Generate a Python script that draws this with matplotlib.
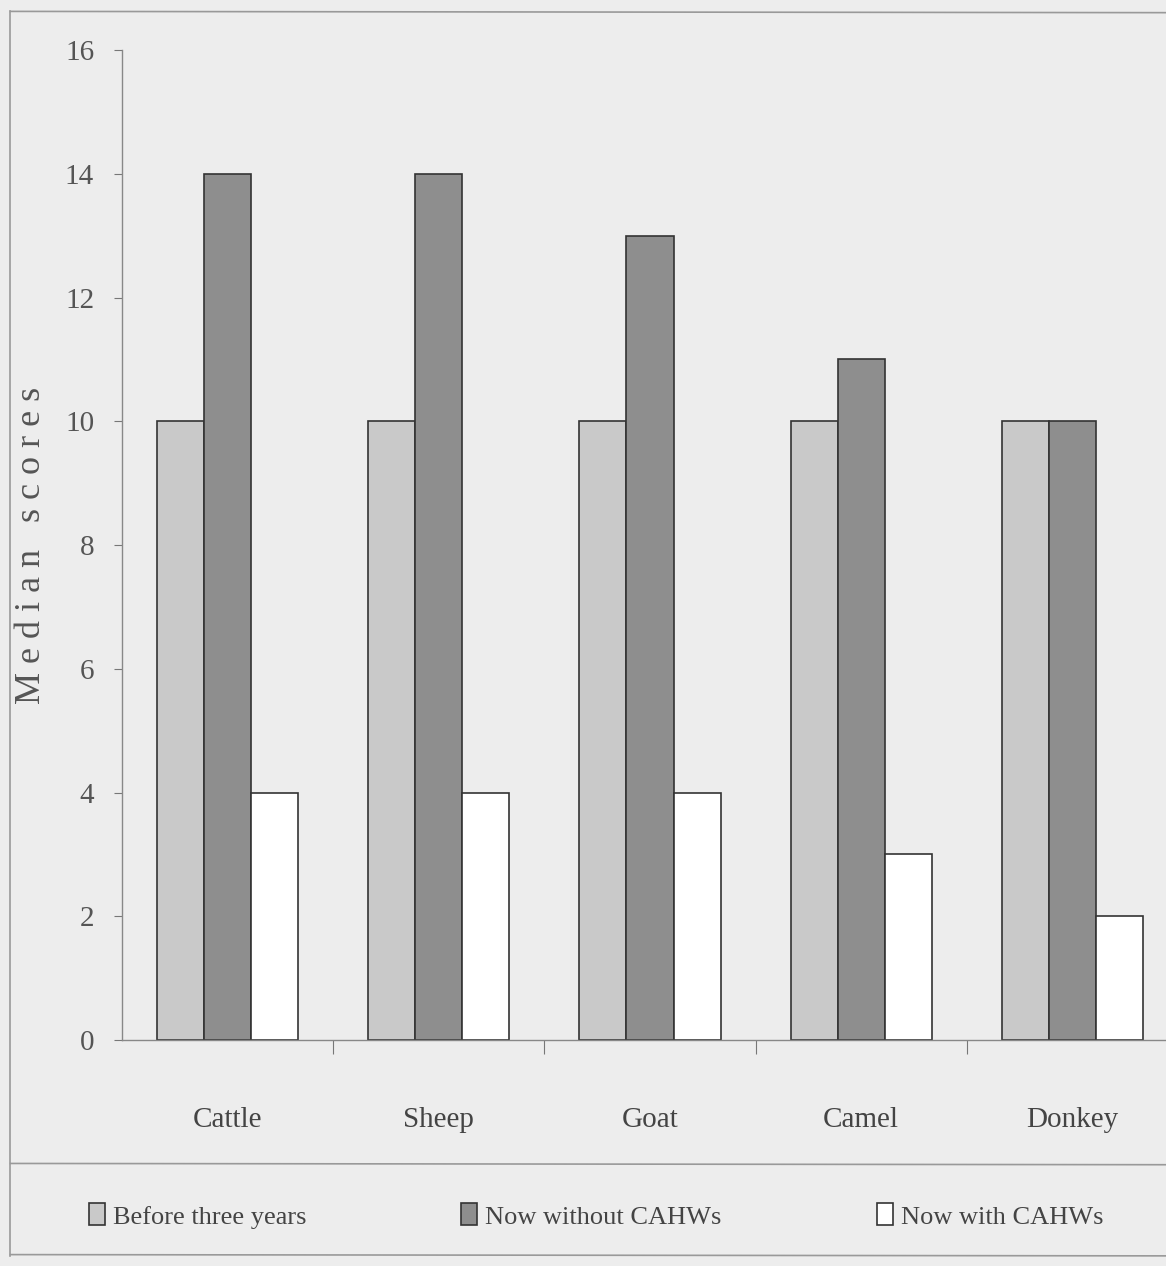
import matplotlib
matplotlib.use("Agg")
import matplotlib.pyplot as plt
from matplotlib.lines import Line2D
from matplotlib.patches import Patch
import numpy as np

plt.rcParams["font.family"] = ["Liberation Serif", "DejaVu Serif"]

# data
animals = ["Cattle", "Sheep", "Goat", "Camel", "Donkey"]
before_three_years = [10, 10, 10, 10, 10]
now_without_cahws = [14, 14, 13, 11, 10]
now_with_cahws = [4, 4, 4, 3, 2]
series_names = ["Before three years", "Now without CAHWs", "Now with CAHWs"]
y_ticks = [0, 2, 4, 6, 8, 10, 12, 14, 16]

BG = "#ededed"
colors = ["#c9c9c9", "#8e8e8e", "#ffffff"]

fig = plt.figure(figsize=(11.66, 12.66), dpi=100, facecolor=BG)
ax = fig.add_axes([0.1046, 0.1785, 0.9057, 0.782])
ax.set_facecolor(BG)

x = np.arange(len(animals))
w = 0.223
series = [before_three_years, now_without_cahws, now_with_cahws]
for i, (vals, c, name) in enumerate(zip(series, colors, series_names)):
    ax.bar(x + (i - 1) * w, vals, width=w, color=c, edgecolor="#333333",
           linewidth=1.2, label=name)

ax.set_xlim(-0.5, 4.5)
ax.set_ylim(0, 16)
ax.set_yticks(y_ticks)
ax.set_yticklabels([str(t) for t in y_ticks], fontsize=21, color="#555555")
ax.set_xticks(x[:-1] + 0.5)
ax.set_xticklabels([])
ax.set_xticks(x, minor=True)
ax.set_xticklabels(animals, minor=True, fontsize=21, color="#444444")
ax.tick_params(axis="x", which="minor", length=0, pad=48)
ax.tick_params(axis="x", which="major", length=10, color="#777777", direction="out")
ax.tick_params(axis="y", length=6, color="#777777", direction="out", pad=14)
for s in ["top", "right"]:
    ax.spines[s].set_visible(False)
for s in ["left", "bottom"]:
    ax.spines[s].set_color("#888888")
    ax.spines[s].set_linewidth(1.0)

ax.set_ylabel("M e d i a n   s c o r e s", fontsize=26, color="#555555", labelpad=12)

# frame lines of the scanned figure
line_kw = dict(color="#999999", linewidth=1.2, transform=fig.transFigure)
fig.add_artist(Line2D([0.009, 1.0], [0.991, 0.990], **line_kw))
fig.add_artist(Line2D([0.009, 0.009], [0.991, 0.008], **line_kw))
fig.add_artist(Line2D([0.009, 1.0], [0.081, 0.080], **line_kw))
fig.add_artist(Line2D([0.009, 1.0], [0.009, 0.008], **line_kw))

handles = [Patch(facecolor=c, edgecolor="#333333", linewidth=1.2) for c in colors]
xs = [0.056, 0.375, 0.732]
for h, name, xl in zip(handles, series_names, xs):
    fig.legend([h], [name], loc="center left", bbox_to_anchor=(xl, 0.0395),
               frameon=False, fontsize=19, handlelength=0.6, handleheight=0.9,
               handletextpad=0.3, labelcolor="#444444")

fig.savefig("out.png", dpi=100, facecolor=BG)
